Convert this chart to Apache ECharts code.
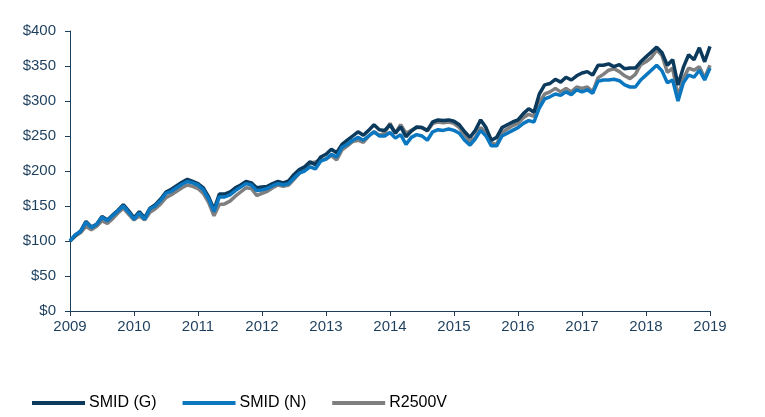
<!DOCTYPE html>
<html>
<head>
<meta charset="utf-8">
<script src="https://cdn.jsdelivr.net/npm/echarts@6/dist/echarts.min.js"></script>
<style>
html,body{margin:0;padding:0;background:#fff;}
#chart{width:765px;height:417px;}
</style>
</head>
<body>
<div id="chart"></div>
<script>
// Monthly index values, Jan 2009 .. Jan 2019 (121 points)
var startYear = 2009;
var endYear = 2019;
var yTicks = [0, 50, 100, 150, 200, 250, 300, 350, 400];
var seriesNames = ['SMID (G)', 'SMID (N)', 'R2500V'];

var smidG = [
100,108,114,128,120,124,135,130,137,144,152,143,
133,142,133,147,152,160,170,174,179,184,188,185,
182,176,163,145,167,167,170,176,180,185,183,176,
177,178,182,185,183,186,195,202,206,213,209,220,
224,231,226,238,244,250,256,251,258,266,259,258,
266,254,263,249,257,263,262,258,270,273,272,273,
271,266,256,248,258,273,262,244,248,262,266,270,
273,282,289,284,310,323,325,331,327,334,330,336,
340,342,337,351,351,353,349,352,346,347,347,356,
363,370,377,369,351,359,323,348,366,359,376,356,
378
];
var smidN = [
100,109,114,127,119,124,134,129,136,143,150,141,
131,140,131,146,150,158,168,171,176,181,185,183,
180,173,160,142,163,163,166,172,177,182,180,172,
173,175,179,182,180,182,190,197,200,206,203,214,
217,224,220,234,238,244,248,244,250,256,250,250,
255,247,252,238,248,252,250,244,256,259,258,260,
258,254,244,237,246,258,250,236,236,250,254,258,
262,268,272,270,290,303,306,310,308,313,309,316,
313,316,311,328,330,330,331,329,323,320,320,330,
337,344,351,343,326,330,300,326,337,334,344,330,
347
];
var r2500v = [
100,107,112,121,116,121,129,125,132,140,147,138,
130,136,130,141,146,153,162,166,171,176,180,178,
175,168,155,136,152,153,157,164,170,176,175,165,
168,171,176,180,178,180,188,197,203,211,213,216,
217,222,216,230,236,242,244,241,250,256,251,254,
268,254,266,254,258,262,262,257,268,270,269,270,
268,262,252,242,248,262,256,240,238,255,260,265,
268,276,281,278,298,310,313,318,313,318,313,320,
318,320,313,333,338,344,346,342,336,332,338,352,
356,362,373,365,341,347,306,332,347,344,349,333,
351
];

var categories = [];
for (var y = startYear; y <= endYear; y++) {
  for (var m = 1; m <= 12; m++) {
    if (y === endYear && m > 1) break;
    categories.push(y + '-' + (m < 10 ? '0' + m : m));
  }
}

var colors = ['#0b3a5d', '#0a77c0', '#7f7f7f'];
var axisColor = '#1d3f5e';
var textColor = '#1d3f5e';

var chart = echarts.init(document.getElementById('chart'), null, {renderer: 'canvas'});
var dataSets = [smidG, smidN, r2500v];
var series = [];
var drawOrder = [1, 2, 0];
for (var i = 0; i < 3; i++) {
  series.push({
    name: seriesNames[i],
    type: 'line',
    data: dataSets[i],
    symbol: 'none',
    smooth: false,
    z: drawOrder[i] + 2,
    lineStyle: {width: 3.5, color: colors[i]},
    itemStyle: {color: colors[i]}
  });
}

chart.setOption({
  animation: false,
  backgroundColor: '#ffffff',
  textStyle: {fontFamily: 'Liberation Sans, Arial, sans-serif'},
  grid: {left: 70, right: 55, top: 31, bottom: 106, containLabel: false},
  legend: {
    data: seriesNames,
    left: 32,
    top: 395,
    padding: 0,
    icon: 'rect',
    itemWidth: 53,
    itemHeight: 4,
    itemGap: 26,
    textStyle: {fontSize: 16, color: '#000000', fontFamily: 'Liberation Sans, Arial, sans-serif', padding: [0, 0, 0, -1]}
  },
  xAxis: {
    type: 'category',
    data: categories,
    boundaryGap: false,
    axisLine: {show: true, lineStyle: {color: axisColor, width: 1}},
    axisTick: {
      show: true,
      length: 5,
      lineStyle: {color: axisColor},
      interval: function (idx, val) { return val.slice(5) === '01'; }
    },
    axisLabel: {
      show: true,
      color: textColor,
      fontSize: 15,
      margin: 8,
      interval: function (idx, val) { return val.slice(5) === '01'; },
      formatter: function (val) { return val.slice(0, 4); }
    },
    splitLine: {show: false}
  },
  yAxis: {
    type: 'value',
    min: yTicks[0],
    max: yTicks[yTicks.length - 1],
    interval: 50,
    axisLine: {show: true, lineStyle: {color: axisColor, width: 1}},
    axisTick: {show: true, length: 5, lineStyle: {color: axisColor}},
    axisLabel: {
      color: textColor,
      fontSize: 15,
      margin: 14,
      formatter: function (v) { return '$' + v; }
    },
    splitLine: {show: false}
  },
  series: series
});
</script>
</body>
</html>
